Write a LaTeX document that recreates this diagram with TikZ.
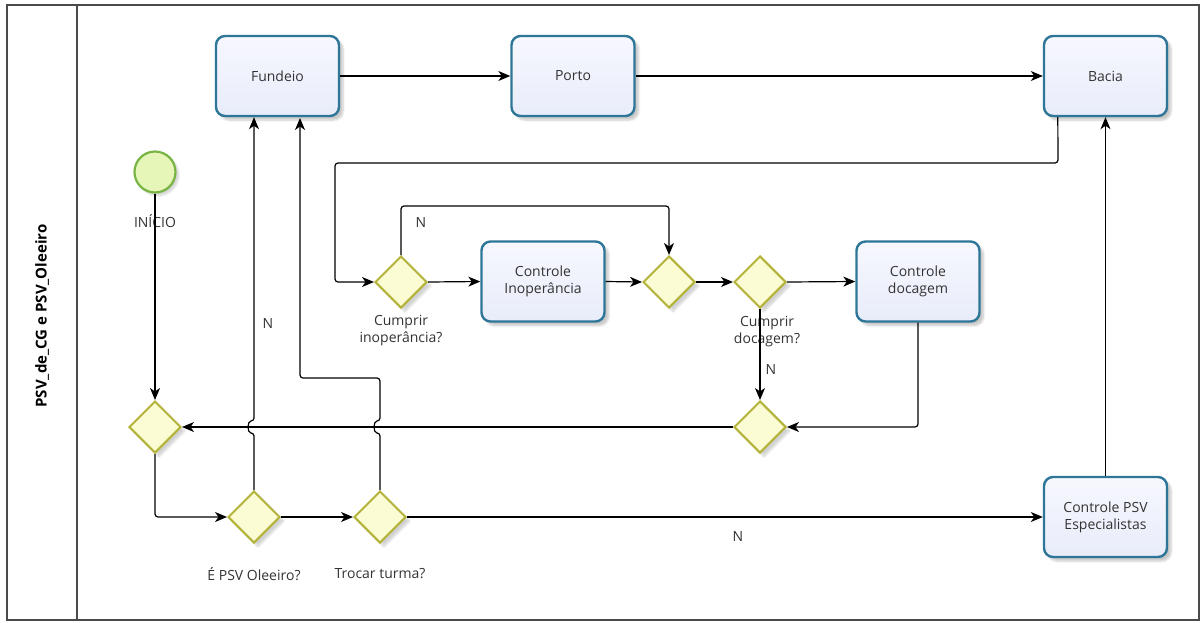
\documentclass[tikz,border=0pt]{standalone}
\usepackage{fontspec}
\setmainfont{Open Sans}
\usetikzlibrary{arrows.meta,shapes.geometric,shadows.blur}
\definecolor{taskc}{HTML}{2E7698}
\definecolor{tasktop}{HTML}{F7F8FE}
\definecolor{taskbot}{HTML}{E8ECFA}
\definecolor{gwc}{HTML}{B3B33A}
\definecolor{gwfill}{HTML}{FBFBD4}
\definecolor{startc}{HTML}{78B443}
\definecolor{startfill}{HTML}{E6F5B8}
\definecolor{textc}{HTML}{333333}
\definecolor{lanec}{HTML}{4A4A4A}
\begin{document}
\begin{tikzpicture}[x=1pt,y=-1pt,
  every node/.style={font=\fontsize{14}{17}\selectfont, text=textc},
  task/.style={rectangle, rounded corners=9pt, draw=taskc, line width=2.4pt,
    minimum width=123pt, minimum height=80pt, top color=tasktop, bottom color=taskbot,
    align=center, blur shadow={shadow xshift=4pt, shadow yshift=-4pt, shadow opacity=22, shadow blur steps=6}},
  gw/.style={diamond, draw=gwc, fill=gwfill, line width=2pt, inner sep=0pt,
    minimum width=52pt, minimum height=52pt,
    blur shadow={shadow xshift=4pt, shadow yshift=-4pt, shadow opacity=18, shadow blur steps=6}},
  startev/.style={circle, draw=startc, fill=startfill, line width=2.2pt, minimum size=41pt, inner sep=0pt,
    blur shadow={shadow xshift=3pt, shadow yshift=-3pt, shadow opacity=18, shadow blur steps=6}},
  flow/.style={draw=black, line width=1.2pt, -{Stealth[length=12pt,width=10pt,inset=3.5pt]}, rounded corners=3pt},
  lbl/.style={align=center, inner sep=0pt},
  lane/.style={draw=lanec, line width=1.2pt}
]
\useasboundingbox (0,0) rectangle (1202,622);
% lane
\draw[lane] (7,5) rectangle (1199,620);
\draw[lane] (77,5) -- (77,620);
\node[rotate=90, font=\bfseries\fontsize{15}{17}\selectfont, text=black] (lanelbl) at (42,316) {PSV\_de\_CG e PSV\_Oleeiro};

% tasks
\node[task] (fund) at (277.5,76) {Fundeio};
\node[task] (porto) at (573,76) {Porto};
\node[task] (bacia) at (1105.5,76) {Bacia};
\node[task] (ci) at (543,281.5) {Controle\\Inoperância};
\node[task] (cd) at (918,281.5) {Controle\\docagem};
\node[task] (psv) at (1105.5,517) {Controle PSV\\Especialistas};

% start
\node[startev] (start) at (155,172) {};
\node[lbl] (startlbl) at (155,221) {INÍCIO};

% gateways
\node[gw] (gl) at (155,427) {};
\node[gw] (ep) at (254,517) {};
\node[gw] (tt) at (380,517) {};
\node[gw] (cinop) at (401,282) {};
\node[gw] (m1) at (669,282) {};
\node[gw] (cdoc) at (760,282) {};
\node[gw] (m2) at (760,427) {};

% gateway labels
\node[lbl] (eplbl) at (254,574) {É PSV Oleeiro?};
\node[lbl] (ttlbl) at (380,574) {Trocar turma?};
\node[lbl] (cinoplbl) at (401,331) {Cumprir\\inoperância?};
\node[lbl] (cdoclbl) at (767,332) {Cumprir\\docagem?};

% flows
\draw[flow] (fund.east) -- (porto.west);
\draw[flow] (porto.east) -- (bacia.west);
\draw[flow] (start.south) -- (gl.north);
\draw[flow] (gl.south) |- (ep.west);
\draw[flow] (ep.east) -- (tt.west);
\draw[flow] (ep.north) -- (254,433) .. controls (247,433) and (247,421) .. (254,421) -- (ep.north |- fund.south);
\draw[flow] (tt.north) -- (380,433) .. controls (373,433) and (373,421) .. (380,421) -- (380,378) -- (300,378) -- (300,118);
\draw[flow] (tt.east) -- (psv.west);
\draw[flow] (psv.north) -- (bacia.south);
\draw[flow] ([xshift=15pt]bacia.south west) -- (1058,163) -- (335,163) |- (cinop.west);
\draw[flow] (cinop.east) -- (ci.west);
\draw[flow] (cinop.north) -- (401,206) -- (669,206) -- (m1.north);
\draw[flow] (ci.east) -- (m1.west);
\draw[flow] (m1.east) -- (cdoc.west);
\draw[flow] (cdoc.east) -- (cd.west);
\draw[flow] (cdoc.south) -- (m2.north);
\draw[flow] (cd.south) |- (m2.east);
\draw[flow] (m2.west) -- (gl.east);

% N labels
\node[lbl] (n1) at (268,323) {N};
\node[lbl] (n2) at (421,222) {N};
\node[lbl] (n3) at (771,369) {N};
\node[lbl] (n4) at (738,536) {N};
\end{tikzpicture}
\end{document}
